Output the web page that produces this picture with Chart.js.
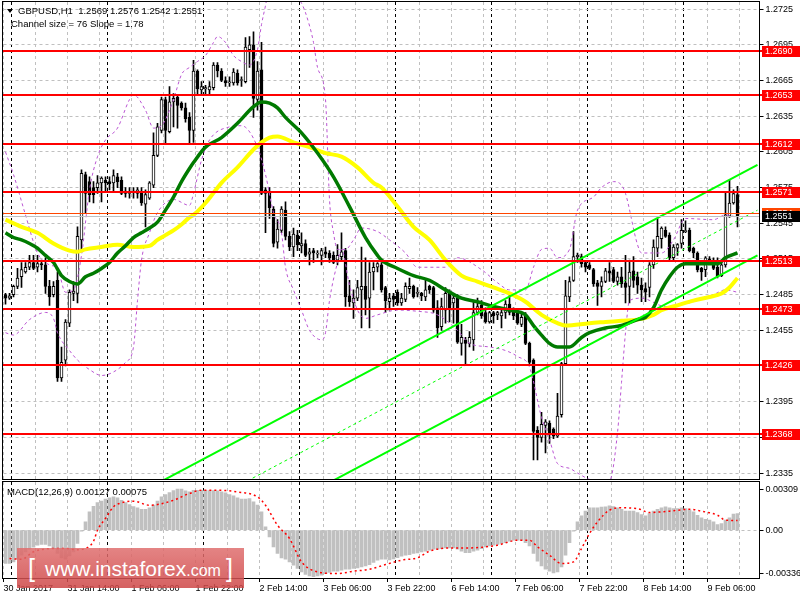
<!DOCTYPE html>
<html>
<head>
<meta charset="utf-8">
<script src="https://cdn.jsdelivr.net/npm/chart.js@4.4.1/dist/chart.umd.min.js"></script>
<style>
  html, body { margin: 0; padding: 0; background: #fff; }
  #wrap { position: relative; width: 800px; height: 600px; overflow: hidden; }
  #main { position: absolute; left: 0; top: 0; }
  #macd { position: absolute; left: 0; top: 481px; }
  #logo { position: absolute; left: 17px; top: 548px; width: 227px; height: 40px;
          background: linear-gradient(#e07070, #cf4848); opacity: 0.86; color: #fff;
          font-family: 'Liberation Sans', Arial, sans-serif; }
  #logo span { position: absolute; white-space: nowrap; line-height: 1; }
  #logo .br { top: 8px; font-size: 25px; }
  #logo .www { left: 28px; top: 10px; font-size: 21px; }
  #logo .www small { font-size: 16px; }
</style>
</head>
<body>
<div id="wrap">
  <canvas id="main" width="800" height="481"></canvas>
  <canvas id="macd" width="800" height="119"></canvas>
  <div id="logo"><span class="br" style="left:11px">[</span><span class="www">www.instaforex<small>.com</small></span><span class="br" style="left:209px">]</span></div>
</div>
<script>
// GBPUSD H1, 30 Jan 2017 22:00 .. 9 Feb 2017 13:00
const opens = [
  1.2485,1.2482,1.2485,1.2492,1.2500,1.2504,1.2508,1.2512,1.2508,1.2511,
  1.2510,1.2492,1.2485,1.2497,1.2415,1.2430,1.2461,1.2486,1.2486,1.2531,
  1.2586,1.2580,1.2575,1.2575,1.2579,1.2581,1.2580,1.2579,1.2584,1.2581,
  1.2572,1.2570,1.2572,1.2570,1.2571,1.2561,1.2566,1.2577,1.2602,1.2623,
  1.2649,1.2622,1.2647,1.2651,1.2646,1.2642,1.2634,1.2623,1.2673,1.2657,
  1.2658,1.2657,1.2659,1.2678,1.2673,1.2665,1.2663,1.2663,1.2671,1.2665,
  1.2664,1.2691,1.2695,1.2649,1.2674,1.2573,1.2571,1.2557,1.2529,1.2539,
  1.2556,1.2534,1.2525,1.2535,1.2526,1.2528,1.2519,1.2522,1.2519,1.2518,
  1.2521,1.2520,1.2518,1.2514,1.2517,1.2522,1.2484,1.2478,1.2482,1.2489,
  1.2492,1.2482,1.2504,1.2508,1.2510,1.2491,1.2479,1.2484,1.2487,1.2478,
  1.2481,1.2490,1.2492,1.2486,1.2486,1.2483,1.2492,1.2491,1.2474,1.2458,
  1.2472,1.2487,1.2478,1.2482,1.2444,1.2447,1.2444,1.2447,1.2470,1.2476,
  1.2470,1.2462,1.2470,1.2468,1.2467,1.2470,1.2477,1.2471,1.2470,1.2460,
  1.2467,1.2444,1.2430,1.2371,1.2365,1.2375,1.2377,1.2372,1.2366,1.2384,
  1.2427,1.2483,1.2497,1.2517,1.2517,1.2512,1.2510,1.2506,1.2495,1.2492,
  1.2496,1.2505,1.2506,1.2496,1.2500,1.2495,1.2492,1.2505,1.2500,1.2493,
  1.2490,1.2491,1.2510,1.2524,1.2532,1.2539,1.2535,1.2516,1.2524,1.2528,
  1.2538,1.2539,1.2524,1.2520,1.2507,1.2506,1.2515,1.2514,1.2508,1.2501,
  1.2510,1.2551,1.2562,1.2569
];
const highs = [
  1.2486,1.2486,1.2493,1.2507,1.2512,1.2512,1.2518,1.2518,1.2518,1.2514,
  1.2516,1.2497,1.2496,1.2504,1.2441,1.2464,1.2489,1.2496,1.2542,1.2590,
  1.2588,1.2584,1.2580,1.2585,1.2584,1.2584,1.2584,1.2590,1.2587,1.2584,
  1.2575,1.2575,1.2575,1.2575,1.2575,1.2573,1.2580,1.2621,1.2629,1.2651,
  1.2651,1.2660,1.2654,1.2653,1.2647,1.2646,1.2638,1.2682,1.2674,1.2664,
  1.2661,1.2664,1.2680,1.2680,1.2675,1.2668,1.2668,1.2675,1.2674,1.2668,
  1.2701,1.2702,1.2706,1.2681,1.2697,1.2575,1.2575,1.2559,1.2548,1.2559,
  1.2563,1.2538,1.2541,1.2539,1.2537,1.2531,1.2524,1.2524,1.2522,1.2524,
  1.2525,1.2522,1.2521,1.2527,1.2537,1.2524,1.2497,1.2489,1.2497,1.2525,
  1.2516,1.2512,1.2512,1.2512,1.2512,1.2492,1.2486,1.2486,1.2489,1.2486,
  1.2495,1.2499,1.2493,1.2491,1.2487,1.2497,1.2493,1.2492,1.2480,1.2482,
  1.2491,1.2489,1.2486,1.2485,1.2460,1.2449,1.2454,1.2479,1.2482,1.2480,
  1.2474,1.2471,1.2471,1.2471,1.2474,1.2480,1.2486,1.2474,1.2471,1.2470,
  1.2470,1.2445,1.2431,1.2374,1.2386,1.2380,1.2379,1.2373,1.2402,1.2428,
  1.2497,1.2500,1.2538,1.2520,1.2519,1.2513,1.2512,1.2507,1.2497,1.2500,
  1.2507,1.2512,1.2508,1.2504,1.2508,1.2518,1.2514,1.2517,1.2504,1.2499,
  1.2495,1.2512,1.2531,1.2549,1.2542,1.2542,1.2537,1.2527,1.2528,1.2548,
  1.2547,1.2541,1.2525,1.2521,1.2508,1.2517,1.2517,1.2516,1.2516,1.2514,
  1.2571,1.2581,1.2573,1.2576
];
const lows = [
  1.2477,1.2481,1.2483,1.2490,1.2491,1.2503,1.2506,1.2506,1.2504,1.2506,
  1.2486,1.2476,1.2483,1.2412,1.2412,1.2425,1.2458,1.2480,1.2478,1.2522,
  1.2554,1.2563,1.2562,1.2570,1.2563,1.2571,1.2573,1.2571,1.2575,1.2569,
  1.2567,1.2566,1.2566,1.2566,1.2560,1.2542,1.2565,1.2575,1.2601,1.2621,
  1.2612,1.2621,1.2626,1.2625,1.2640,1.2630,1.2612,1.2613,1.2653,1.2653,
  1.2653,1.2653,1.2657,1.2668,1.2664,1.2660,1.2660,1.2661,1.2661,1.2660,
  1.2663,1.2676,1.2634,1.2640,1.2569,1.2537,1.2549,1.2525,1.2524,1.2537,
  1.2531,1.2522,1.2517,1.2522,1.2520,1.2517,1.2510,1.2512,1.2516,1.2510,
  1.2516,1.2512,1.2511,1.2510,1.2514,1.2475,1.2475,1.2465,1.2480,1.2457,
  1.2468,1.2457,1.2489,1.2504,1.2487,1.2470,1.2472,1.2475,1.2476,1.2476,
  1.2479,1.2486,1.2482,1.2483,1.2480,1.2480,1.2486,1.2470,1.2449,1.2455,
  1.2461,1.2462,1.2461,1.2444,1.2434,1.2426,1.2441,1.2438,1.2468,1.2465,
  1.2461,1.2461,1.2461,1.2464,1.2457,1.2465,1.2468,1.2464,1.2460,1.2458,
  1.2443,1.2427,1.2346,1.2346,1.2361,1.2352,1.2360,1.2364,1.2365,1.2382,
  1.2426,1.2479,1.2496,1.2512,1.2508,1.2504,1.2506,1.2492,1.2476,1.2483,
  1.2495,1.2496,1.2495,1.2493,1.2491,1.2478,1.2478,1.2491,1.2486,1.2479,
  1.2479,1.2483,1.2507,1.2517,1.2524,1.2533,1.2514,1.2514,1.2518,1.2524,
  1.2537,1.2521,1.2516,1.2504,1.2497,1.2500,1.2512,1.2506,1.2499,1.2500,
  1.2508,1.2550,1.2561,1.2542
];
const closes = [
  1.2482,1.2484,1.2492,1.2499,1.2506,1.2508,1.2512,1.2507,1.2511,1.2510,
  1.2492,1.2483,1.2492,1.2415,1.2428,1.2462,1.2487,1.2488,1.2534,1.2587,
  1.2570,1.2569,1.2569,1.2579,1.2583,1.2579,1.2578,1.2585,1.2580,1.2570,
  1.2570,1.2571,1.2571,1.2573,1.2562,1.2569,1.2579,1.2602,1.2626,1.2649,
  1.2623,1.2647,1.2650,1.2644,1.2642,1.2633,1.2623,1.2673,1.2658,1.2660,
  1.2659,1.2660,1.2678,1.2673,1.2665,1.2663,1.2663,1.2672,1.2663,1.2665,
  1.2693,1.2695,1.2650,1.2673,1.2570,1.2570,1.2558,1.2528,1.2540,1.2557,
  1.2534,1.2525,1.2536,1.2527,1.2528,1.2518,1.2521,1.2520,1.2519,1.2522,
  1.2519,1.2516,1.2512,1.2518,1.2521,1.2483,1.2479,1.2482,1.2491,1.2492,
  1.2481,1.2504,1.2508,1.2511,1.2489,1.2480,1.2482,1.2481,1.2478,1.2482,
  1.2492,1.2492,1.2483,1.2486,1.2484,1.2489,1.2489,1.2472,1.2457,1.2475,
  1.2486,1.2474,1.2482,1.2445,1.2449,1.2444,1.2449,1.2470,1.2475,1.2467,
  1.2462,1.2470,1.2467,1.2470,1.2470,1.2477,1.2470,1.2467,1.2461,1.2466,
  1.2444,1.2428,1.2370,1.2365,1.2376,1.2378,1.2369,1.2366,1.2383,1.2427,
  1.2484,1.2496,1.2517,1.2518,1.2511,1.2508,1.2507,1.2494,1.2492,1.2496,
  1.2505,1.2503,1.2496,1.2500,1.2494,1.2491,1.2504,1.2497,1.2493,1.2489,
  1.2487,1.2510,1.2525,1.2534,1.2541,1.2534,1.2516,1.2525,1.2527,1.2539,
  1.2538,1.2522,1.2520,1.2506,1.2504,1.2516,1.2514,1.2507,1.2500,1.2510,
  1.2552,1.2562,1.2570,1.2551
];

// moving averages and bands (bar index -> price)
const maGreenIdx = [0,2,4,6,8,10,12,14,16,18,20,22,24,26,28,30,32,34,36,38,40,42,44,46,
  47,50,54,58,62,64,66,68,70,74,78,82,86,90,93,94,98,102,106,110,114,118,122,126,130,132,
  134,136,138,141,144,146,150,154,158,160,162,164,166,168,170,174,178,180,183];
const maGreenVal = [1.2537,1.2533,1.2531,1.2528,1.2524,1.2518,1.2512,1.2501,1.2496,1.2494,
  1.2500,1.2503,1.2507,1.2512,1.2520,1.2526,1.2533,1.2537,1.2541,1.2546,1.2556,1.2567,1.2580,1.2591,
  1.2596,1.2609,1.2617,1.2629,1.2643,1.2647,1.2646,1.2642,1.2634,1.2621,1.2604,1.2584,1.2559,1.2533,
  1.2518,1.2514,1.2507,1.2501,1.2497,1.2489,1.2482,1.2479,1.2475,1.2472,1.2468,1.2459,1.2451,1.2444,
  1.2441,1.2441,1.2449,1.2453,1.2457,1.2459,1.2464,1.2466,1.2474,1.2489,1.2500,1.2508,1.2511,1.2511,
  1.2511,1.2516,1.2520];
const maYellowIdx = [0,4,8,12,16,18,20,24,28,32,36,38,40,42,44,46,47,50,54,58,62,64,66,68,72,76,
  80,84,88,92,94,98,102,106,110,114,118,122,126,130,134,138,140,146,150,154,158,162,164,168,172,
  176,179,181,183];
const maYellowVal = [1.2548,1.2542,1.2537,1.2528,1.2522,1.2521,1.2523,1.2525,1.2527,1.2525,
  1.2526,1.2531,1.2535,1.2539,1.2544,1.2550,1.2552,1.2562,1.2579,1.2592,1.2607,1.2613,1.2617,1.2618,
  1.2613,1.2609,1.2604,1.2601,1.2592,1.2579,1.2575,1.2559,1.2542,1.2531,1.2514,1.2501,1.2496,1.2491,
  1.2486,1.2479,1.2468,1.2461,1.2459,1.2461,1.2462,1.2463,1.2464,1.2468,1.2472,1.2476,1.2480,1.2483,
  1.2486,1.2491,1.2499];
const bandUpIdx = [0,2,5,8,11,13,15,17,19,21,23,25,28,31,32,35,37,39,42,44,46,48,50,52,53,55,57,
  59,61,63,64,65,66,69,72,73,74,75,77,78,80,81,82,83,85,87,89,93,96,100,103,110,113,119,123,126,
  130,132,134,136,138,141,143,147,149,152,154,155,158,159,164,167,170,177,180,183];
const bandUpVal = [1.2605,1.2586,1.2552,1.2520,1.2510,1.2507,1.2487,1.2489,1.2518,1.2573,
  1.2601,1.2615,1.2625,1.2649,1.2653,1.2640,1.2625,1.2627,1.2649,1.2670,1.2676,1.2681,1.2686,1.2697,
  1.2702,1.2697,1.2686,1.2681,1.2678,1.2691,1.2712,1.2728,1.2745,1.2758,1.2749,1.2735,1.2730,1.2722,
  1.2697,1.2676,1.2649,1.2565,1.2537,1.2523,1.2523,1.2531,1.2541,1.2538,1.2531,1.2520,1.2508,1.2508,
  1.2516,1.2506,1.2495,1.2489,1.2489,1.2508,1.2523,1.2524,1.2516,1.2523,1.2556,1.2567,1.2575,1.2580,
  1.2577,1.2570,1.2527,1.2520,1.2520,1.2531,1.2549,1.2548,1.2552,1.2550];
const bandLoIdx = [0,2,6,10,12,13,16,18,21,24,27,30,32,33,34,36,38,42,46,47,49,51,56,59,63,65,67,
  69,70,72,74,76,79,80,81,83,84,86,88,90,93,98,103,108,113,116,121,125,128,131,134,136,138,141,
  143,147,151,153,154,155,156,159,165,172,177,180,183];
const bandLoVal = [1.2453,1.2451,1.2464,1.2470,1.2465,1.2453,1.2438,1.2430,1.2422,1.2417,
  1.2420,1.2428,1.2441,1.2480,1.2514,1.2537,1.2554,1.2565,1.2560,1.2570,1.2598,1.2615,1.2626,1.2627,
  1.2609,1.2586,1.2554,1.2537,1.2508,1.2489,1.2472,1.2455,1.2447,1.2453,1.2480,1.2512,1.2523,1.2493,
  1.2472,1.2465,1.2468,1.2472,1.2471,1.2468,1.2455,1.2444,1.2441,1.2438,1.2433,1.2424,1.2382,1.2363,
  1.2343,1.2339,1.2335,1.2329,1.2329,1.2369,1.2411,1.2453,1.2480,1.2482,1.2475,1.2479,1.2485,1.2489,
  1.2487];

// regression channel (Channel size = 76, Slope = 1.78)
const channelIdx = [30, 188];
const channelUpper = [1.2312, 1.2594];
const channelMiddle = [1.2274, 1.2556];
const channelLower = [1.2236, 1.2518];

// horizontal levels
const levels = [1.2690, 1.2653, 1.2612, 1.2571, 1.2513, 1.2473, 1.2426, 1.2368];
const askPrice = 1.2554;
const bidPrice = 1.2551;
const priceTicks = [1.2335,1.2365,1.2395,1.2425,1.2455,1.2485,1.2515,1.2545,1.2575,1.2605,1.2635,1.2665,1.2695,1.2725];

// MACD(12,26,9)
const macdMain = [
  -0.00256,-0.00256,-0.00243,-0.00223,-0.00192,-0.00166,-0.00146,-0.00131,-0.00115,-0.00110,
  -0.00110,-0.00120,-0.00141,-0.00179,-0.00212,-0.00223,-0.00197,-0.00166,-0.00102,-0.00008,
  0.00064,0.00141,0.00184,0.00212,0.00223,0.00238,0.00248,0.00256,0.00248,0.00230,
  0.00212,0.00197,0.00182,0.00172,0.00161,0.00161,0.00172,0.00192,0.00223,0.00256,
  0.00274,0.00289,0.00305,0.00315,0.00315,0.00302,0.00294,0.00307,0.00307,0.00307,
  0.00307,0.00305,0.00305,0.00302,0.00294,0.00287,0.00274,0.00264,0.00248,0.00238,
  0.00238,0.00243,0.00218,0.00192,0.00141,0.00026,-0.00051,-0.00128,-0.00179,-0.00212,
  -0.00223,-0.00243,-0.00269,-0.00294,-0.00320,-0.00340,-0.00351,-0.00356,-0.00351,-0.00346,
  -0.00333,-0.00325,-0.00315,-0.00315,-0.00307,-0.00300,-0.00300,-0.00294,-0.00289,-0.00282,
  -0.00274,-0.00264,-0.00248,-0.00230,-0.00223,-0.00223,-0.00228,-0.00220,-0.00210,-0.00200,
  -0.00192,-0.00187,-0.00179,-0.00174,-0.00166,-0.00161,-0.00154,-0.00146,-0.00146,-0.00141,
  -0.00136,-0.00136,-0.00136,-0.00146,-0.00161,-0.00172,-0.00172,-0.00161,-0.00154,-0.00141,
  -0.00128,-0.00120,-0.00115,-0.00110,-0.00102,-0.00095,-0.00084,-0.00077,-0.00077,-0.00077,
  -0.00095,-0.00120,-0.00179,-0.00238,-0.00274,-0.00300,-0.00315,-0.00328,-0.00320,-0.00282,
  -0.00192,-0.00095,-0.00008,0.00064,0.00110,0.00146,0.00172,0.00172,0.00172,0.00177,
  0.00179,0.00187,0.00182,0.00172,0.00161,0.00146,0.00146,0.00146,0.00136,0.00120,
  0.00110,0.00128,0.00146,0.00161,0.00172,0.00179,0.00172,0.00166,0.00166,0.00172,
  0.00166,0.00154,0.00141,0.00115,0.00095,0.00084,0.00077,0.00064,0.00044,0.00051,
  0.00077,0.00095,0.00124,0.00127
];
const signalIdx = [1,4,7,12,15,18,20,22,23,25,27,29,32,36,38,42,46,49,53,58,63,65,68,71,74,78,83,
  87,91,95,99,103,106,112,116,123,128,131,133,136,139,142,144,146,148,151,154,158,161,166,171,174,
  178,180,183];
const signalVal = [-0.00218,-0.00223,-0.00166,-0.00141,-0.00141,-0.00150,-0.00140,-0.00085,0.00000,
  0.00090,0.00180,0.00210,0.00223,0.00192,0.00197,0.00230,0.00282,0.00307,0.00307,0.00294,0.00256,
  0.00192,0.00038,-0.00064,-0.00243,-0.00320,-0.00333,-0.00315,-0.00300,-0.00264,-0.00230,-0.00212,
  -0.00161,-0.00136,-0.00136,-0.00115,-0.00077,-0.00077,-0.00128,-0.00192,-0.00256,-0.00243,-0.00141,
  -0.00026,0.00064,0.00154,0.00172,0.00166,0.00136,0.00146,0.00161,0.00146,0.00115,0.00077,0.00075];
const macdTicks = [-0.00336, 0, 0.00309];

// hourly bar labels, weekend skipped, plus 5 empty slots on the right (chart shift)
const MONTHS = ['Jan','Feb','Mar','Apr','May','Jun','Jul','Aug','Sep','Oct','Nov','Dec'];
const labels = [];
for (let t = Date.UTC(2017, 0, 30, 22); labels.length < 189; t += 3600000) {
  const d = new Date(t);
  const wd = d.getUTCDay();
  if (wd === 0 || wd === 6) continue;
  const hh = String(d.getUTCHours()).padStart(2, '0');
  labels.push(d.getUTCDate() + ' ' + MONTHS[d.getUTCMonth()] + ' ' + hh + ':00');
}

const pts = (idx, vals) => idx.map((k, j) => ({ x: labels[k], y: vals[j] }));

Chart.defaults.font.family = 'Liberation Sans';
Chart.defaults.font.size = 9;
Chart.defaults.color = '#000';

// vertical grid: black dashed day separators, gray dashed every 8 bars
function vGridColor(ctx) {
  const i = ctx.index;
  if (i === undefined) return 'rgba(0,0,0,0)';
  if (i % 24 === 2) return '#000';
  if (i % 8 === 0) return '#c0c0c0';
  return 'rgba(0,0,0,0)';
}

// right price axis: fixed width, no extra label padding above/below the plot
function fitRightAxis(s) {
  s.width = 40.5;
  s.paddingTop = 0;
  s.paddingBottom = 0;
}

const mainOverlay = {
  id: 'mainOverlay',
  afterDatasetsDraw(chart) {
    const { ctx, chartArea: a, scales: { y } } = chart;
    const x0 = Math.floor(a.left), w = Math.ceil(a.right) - x0;
    ctx.save();
    ctx.fillStyle = '#c0c0c0';
    ctx.fillRect(x0, Math.round(y.getPixelForValue(bidPrice)), w, 1);
    ctx.fillStyle = '#ff4500';
    ctx.fillRect(x0, Math.round(y.getPixelForValue(askPrice)), w, 1);
    ctx.fillStyle = '#ff0000';
    levels.forEach(v => {
      ctx.fillRect(x0, Math.round(y.getPixelForValue(v)) - 1, w + 3, 2);
    });
    ctx.restore();
  },
  afterDraw(chart) {
    const { ctx, chartArea: a, scales: { y } } = chart;
    ctx.save();
    ctx.strokeStyle = '#000';
    ctx.lineWidth = 1;
    ctx.strokeRect(2.5, Math.floor(a.top) - 0.5, Math.round(a.right) - 3, Math.round(a.bottom - a.top) + 1);

    ctx.font = '9px "Liberation Sans"';
    ctx.textBaseline = 'middle';
    const tag = (v, bg) => {
      const py = Math.round(y.getPixelForValue(v));
      ctx.fillStyle = bg;
      ctx.fillRect(762, py - 5, 38, 11);
      ctx.fillStyle = '#fff';
      ctx.fillText(v.toFixed(4), 765, py + 0.5);
    };
    levels.forEach(v => tag(v, '#ff0000'));
    tag(askPrice, '#ff4500');
    tag(bidPrice, '#000');

    // header
    ctx.fillStyle = '#000';
    ctx.beginPath();
    ctx.moveTo(7, 9); ctx.lineTo(13, 9); ctx.lineTo(10, 13); ctx.closePath();
    ctx.fill();
    ctx.textBaseline = 'alphabetic';
    ctx.font = '9.5px "Liberation Sans"';
    ctx.fillText('GBPUSD,H1  1.2569 1.2576 1.2542 1.2551', 18, 14);
    ctx.fillText('Channel size = 76 Slope = 1.78', 11, 27);
    ctx.restore();
  }
};

const macdOverlay = {
  id: 'macdOverlay',
  afterDraw(chart) {
    const { ctx, chartArea: a } = chart;
    ctx.save();
    ctx.strokeStyle = '#000';
    ctx.lineWidth = 1;
    ctx.strokeRect(2.5, Math.floor(a.top) - 0.5, Math.round(a.right) - 3, Math.round(a.bottom - a.top) + 1);
    ctx.fillStyle = '#000';
    ctx.font = '9.5px "Liberation Sans"';
    ctx.fillText('MACD(12,26,9) 0.00127 0.00075', 7, 14);
    ctx.restore();
  }
};

const lineBase = { type: 'line', pointRadius: 0, fill: false, clip: 0, cubicInterpolationMode: 'monotone' };

new Chart(document.getElementById('main'), {
  type: 'bar',
  data: {
    labels,
    datasets: [
      { ...lineBase, data: pts(channelIdx, channelUpper), borderColor: '#00ff00', borderWidth: 2, order: 3 },
      { ...lineBase, data: pts(channelIdx, channelMiddle), borderColor: '#00ff00', borderWidth: 1, borderDash: [3, 3], order: 3 },
      { ...lineBase, data: pts(channelIdx, channelLower), borderColor: '#00ff00', borderWidth: 2, order: 3 },
      { ...lineBase, data: pts(maGreenIdx, maGreenVal), borderColor: '#007a00', borderWidth: 3.5, order: 4 },
      { ...lineBase, data: pts(maYellowIdx, maYellowVal), borderColor: '#ffff00', borderWidth: 4, order: 5 },
      { ...lineBase, data: pts(bandUpIdx, bandUpVal), borderColor: '#ba55d3', borderWidth: 1, borderDash: [3, 3], order: 6 },
      { ...lineBase, data: pts(bandLoIdx, bandLoVal), borderColor: '#ba55d3', borderWidth: 1, borderDash: [3, 3], order: 6 },
      {
        type: 'bar', order: 7, grouped: false, barThickness: 3, minBarLength: 1,
        data: opens.map((o, i) => [o, closes[i]]),
        backgroundColor: opens.map((o, i) => closes[i] >= o ? '#fff' : '#000'),
        borderColor: '#000', borderWidth: 1, borderSkipped: false
      },
      {
        type: 'bar', order: 8, grouped: false, barThickness: 1,
        data: lows.map((l, i) => [l, highs[i]]),
        backgroundColor: '#000'
      }
    ]
  },
  options: {
    responsive: false,
    animation: false,
    devicePixelRatio: 1,
    events: [],
    layout: { padding: { left: 3.5, top: 2, right: 0, bottom: 2 } },
    plugins: { legend: { display: false }, tooltip: { enabled: false } },
    scales: {
      x: {
        offset: true,
        ticks: { display: false, autoSkip: false },
        grid: { offset: true, drawTicks: false, color: vGridColor },
        border: { display: false, dash: [3, 3] }
      },
      y: {
        position: 'right',
        min: 1.2330,
        max: 1.2731,
        afterFit: fitRightAxis,
        afterBuildTicks(s) { s.ticks = priceTicks.map(v => ({ value: v })); },
        ticks: { padding: 2, color: '#000', callback: v => v.toFixed(4) },
        grid: { color: '#c0c0c0', tickColor: '#000', tickLength: 4 },
        border: { color: '#000', dash: [3, 3] }
      }
    }
  },
  plugins: [mainOverlay]
});

new Chart(document.getElementById('macd'), {
  type: 'bar',
  data: {
    labels,
    datasets: [
      { ...lineBase, data: pts(signalIdx, signalVal), borderColor: '#ff0000', borderWidth: 1.5, borderDash: [2, 3], order: 1 },
      { type: 'bar', data: macdMain, backgroundColor: '#c0c0c0', barThickness: 3, order: 2 }
    ]
  },
  options: {
    responsive: false,
    animation: false,
    devicePixelRatio: 1,
    events: [],
    layout: { padding: { left: 3.5, top: 1, right: 0, bottom: 0 } },
    plugins: { legend: { display: false }, tooltip: { enabled: false } },
    scales: {
      x: {
        offset: true,
        afterFit(s) { s.height = 22; s.paddingLeft = 0; s.paddingRight = 0; },
        ticks: {
          autoSkip: false, minRotation: 0, maxRotation: 0, align: 'start', padding: 1, labelOffset: -2,
          color: '#000',
          callback: (v, i) => i % 16 === 0 ? (i === 0 ? '30 Jan 2017' : labels[i]) : ''
        },
        grid: {
          offset: true, color: vGridColor, tickLength: 4,
          tickColor: ctx => (ctx.index !== undefined && ctx.index % 16 === 0) ? '#000' : 'rgba(0,0,0,0)'
        },
        border: { display: false, dash: [3, 3] }
      },
      y: {
        position: 'right',
        min: -0.00367,
        max: 0.00370,
        afterFit: fitRightAxis,
        afterBuildTicks(s) { s.ticks = macdTicks.map(v => ({ value: v })); },
        ticks: { padding: 2, color: '#000', callback: v => v === 0 ? '0.00' : v.toFixed(5) },
        grid: {
          color: ctx => (ctx.tick && ctx.tick.value === 0) ? '#c0c0c0' : 'rgba(0,0,0,0)',
          tickColor: '#000', tickLength: 4
        },
        border: { color: '#000', dash: [3, 3] }
      }
    }
  },
  plugins: [macdOverlay]
});
</script>
</body>
</html>
